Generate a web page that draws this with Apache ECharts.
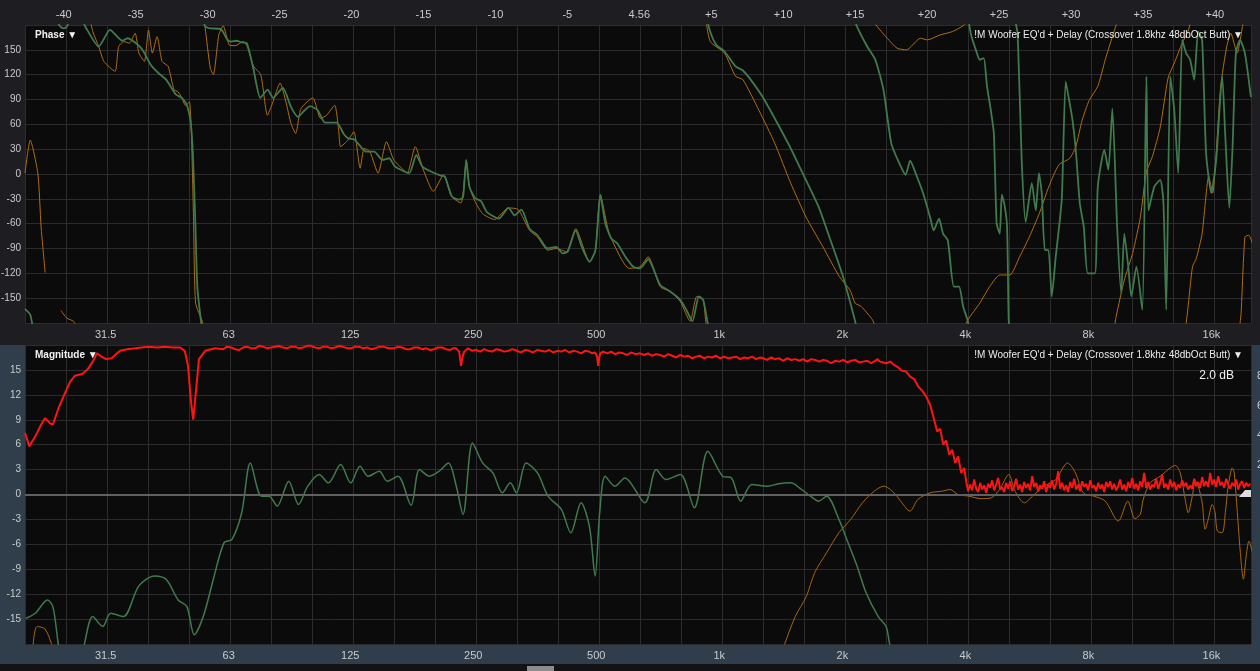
<!DOCTYPE html>
<html>
<head>
<meta charset="utf-8">
<script src="https://cdn.jsdelivr.net/npm/echarts/dist/echarts.min.js"></script>
<style>
  html, body { margin: 0; padding: 0; background: #1e1e22; }
  #chart { width: 1260px; height: 671px; }
</style>
</head>
<body>
<div id="chart"></div>
<script>
// ---- Axis ticks ----
const freqTickHz = [31.5, 63, 125, 250, 500, 1000, 2000, 4000, 8000, 16000];
const freqTickText = ['31.5', '63', '125', '250', '500', '1k', '2k', '4k', '8k', '16k'];
const delayTicks = [-40, -35, -30, -25, -20, -15, -10, -5, 0, 5, 10, 15, 20, 25, 30, 35, 40];
const delayCenterText = '4.56';
const rightScaleTicks = [2, 4, 6, 8];

// ---- Phase traces: [Hz, degrees]; null marks a wrap/gap ----
const greenPhase = [
  [20.0,-163],[20.6,-170],[20.9,-186], null,
  [24.0,184],[24.4,178],[24.9,176],[25.3,178],[25.8,186],[27.3,190],[28.1,178],[30.3,154],[32.3,174],[34.6,161],[35.7,164],
  [38.0,155],[39.0,148],[40.6,132],[42.4,122],[44.3,114],[46.8,96],[48.4,92],[49.8,83],[50.9,61],[51.5,25],[52.2,-56],
  [52.8,-136],[53.8,-174],[54.3,-190], null,
  [54.6,186],[55.2,178],[56.8,176],[60.3,175],[62.6,162],[64.0,160],[65.9,161],[67.8,159],[69.8,158],[72.5,126],[75.3,92],
  [78.5,102],[80.9,92],[85.5,104],[89.5,81],[93.1,69],[96.7,77],[99.6,82],[104.1,77],[108.5,62],[115.8,62],[120.3,49],
  [123.5,43],[127.6,42],[130.5,37],[136.7,27],[143.1,27],[149.9,17],[155.7,19],[160.8,9],[174.2,1],[181.4,23],[187.6,9],
  [197.0,3],[208.3,-2],[213.1,-3],[221.5,-27],[230.8,-31],[236.0,-28],[240.3,17],[244.5,-15],[252.4,-29],[261.3,-33],
  [270.1,-46],[288.6,-54],[304.9,-41],[315.4,-50],[328.0,-43],[343.2,-66],[359.0,-74],[380.2,-90],[399.1,-88],[413.9,-96],
  [425.4,-94],[445.1,-68],[460.7,-88],[481.4,-106],[497.6,-92],[511.6,-25],[526.3,-60],[544.1,-78],[563.0,-84],[589.1,-100],
  [615.9,-112],[640,-114],[669.7,-103],[716.5,-134],[758.1,-142],[802.4,-152],[830.2,-164],[859.6,-178],[891.1,-148],
  [912.8,-152],[935.1,-178],[945,-190], null,
  [933.4,188],[946.8,174],[982.5,156],[1030,148],[1096,130],[1142,125],[1193,114],[1277,93],[1367,67],[1495,31],[1599,1],
  [1751,-40],[1871,-80],[2008,-124],[2150,-178],[2172,-190], null,
  [2150,186],[2172,178],[2301,154],[2408,138],[2521,102],[2635,37],[2756,13],[2856,-1],[2931,16],[3044,-3],[3152,-23],
  [3278,-52],[3347,-68],[3448,-54],[3527,-72],[3623,-80],[3749,-136],[3860,-136],[3950,-160],[4058,-178],[4081,-190], null,
  [4070,186],[4131,168],[4243,150],[4338,138],[4436,140],[4519,106],[4624,75],[4697,49],[4771,-60],[4856,-72],[4912,-25],
  [4989,-38],[5060,-64],[5106,-176],[5149,-190], null,
  [5295,186],[5373,168],[5494,17],[5619,-58],[5816,-11],[5949,-44],[6055,1],[6151,-23],[6261,-92],[6388,-92],[6508,-148],
  [6656,-100],[6885,-31],[7041,112],[7202,85],[7316,65],[7453,29],[7622,-35],[7795,-64],[7973,-120],[8303,-120],[8437,-15],
  [8753,29],[8953,5],[9157,79],[9408,-64],[9624,-144],[9795,-72],[10016,-112],[10190,-148],[10486,-112],[10841,-164],
  [11096,118],[11222,-44],[11606,-15],[11999,-7],[12212,-35],[12405,-164],[12693,118],[12980,77],[13273,1],[13573,162],
  [13879,146],[14192,138],[14522,114],[14850,172],[15185,162],[15528,25],[15993,-23],[16437,17],[17004,118],[17291,49],
  [17698,-41],[18029,33],[18367,146],[18802,162],[19324,146],[19990,93]
];

const orangePhase = [
  [20.0,1],[20.6,41],[21.5,1],[21.9,-64],[22.4,-119], null,
  [24.5,-165],[25.3,-174],[26.3,-178],[26.7,-186], null,
  [28.9,186],[29.3,172],[30.3,154],[31.2,136],[33.2,124],[33.9,154],[34.9,160],[36.0,158],[37.2,170],[38.0,146],[39.2,136],
  [40.1,174],[41.0,146],[42.1,166],[43.3,136],[44.8,130],[46.3,102],[47.4,99],[48.4,92],[49.4,83],[50.5,87],[51.1,45],
  [51.7,-56],[52.3,-156],[54.3,-178],[54.8,-188], null,
  [55.0,188],[55.2,177],[56.8,128],[57.8,120],[59.6,168],[61.1,179],[63.2,156],[65.4,155],[68.4,160],[70.0,154],[72.5,130],
  [75.5,120],[78.4,71],[80.6,85],[84.2,110],[87.0,87],[89.5,61],[91.9,49],[94.7,79],[101.2,92],[105.8,67],[109.4,71],
  [114.5,83],[117.1,53],[118.4,33],[123.5,41],[127.6,51],[132.2,7],[135.2,31],[139.6,27],[146.2,1],[153.3,39],[159.7,17],
  [167.0,7],[172.3,1],[180.3,33],[188.7,5],[199.7,-21],[211.4,-1],[221.0,-27],[233.2,-35],[236.5,-20],[240.3,17],
  [244.5,-15],[252.4,-33],[263.5,-48],[281.8,-55],[304.9,-41],[322.2,-43],[343.2,-68],[359.0,-76],[380.2,-92],[399.1,-90],
  [422.6,-94],[445.1,-66],[481.4,-106],[497.6,-92],[511.6,-25],[538.2,-72],[601.8,-114],[640,-112],[669.7,-100],
  [716.5,-136],[758.1,-142],[802.4,-154],[848.5,-178],[880.7,-148],[912.8,-152],[926.3,-178],[935,-190], null,
  [924.4,190],[950.3,160],[1030,146],[1096,118],[1142,114],[1250,77],[1367,37],[1495,-11],[1630,-52],[1793,-88],[1967,-124],
  [2087,-140],[2150,-156],[2224,-160],[2369,-176],[2420,-188], null,
  [2366,190],[2418,180],[2576,164],[2722,152],[2871,150],[3106,164],[3230,162],[3469,168],[3717,172],[3975,180],[4018,186], null,
  [3974,-186],[4058,-176],[4338,-156],[4588,-136],[4856,-122],[5140,-122],[5430,-100],[5737,-76],[6064,-48],[6404,-15],
  [6775,11],[7202,19],[7453,33],[7723,65],[8037,89],[8437,106],[8797,138],[9157,166],[9356,180],[9463,188], null,
  [9252,-186],[9356,-172],[9795,-128],[10263,-96],[10722,-52],[11096,3],[11476,21],[11999,57],[12536,116],[12980,134],
  [13573,158],[14063,174],[14240,186], null,
  [13807,-190],[14005,-164],[14383,-112],[14696,-102],[15185,-72],[15762,-3],[16120,-23],[16437,25],[16860,106],[17444,154],
  [17856,170],[18500,146],[18915,168],[19160,186], null,
  [18705,-190],[18915,-168],[19324,-76],[19762,-74],[20155,-84]
];

// ---- Magnitude traces: [Hz, dB] ----
const redMagnitude = [
  [20.0,7.4],[20.5,5.8],[21.2,7.0],[21.9,8.4],[22.4,9.2],[23.0,8.6],[23.4,8.4],[24.2,10.5],[25.1,12.3],[25.8,13.6],[26.5,14.3],
  [27.6,14.5],[28.5,15.1],[29.3,16.0],[30.0,17.0],[30.8,16.6],[31.6,16.3],[32.6,16.4],[33.4,16.9],[34.2,17.3],[35.6,17.5],
  [37.2,17.6],[38.6,17.7],[40.0,17.8],[42.2,17.7],[44.0,17.8],[46.0,17.7],[47.9,17.7],[49.2,17.3],[50.1,15.5],[51.0,11.0],
  [51.6,9.0],[52.3,12.0],[53.3,16.3],[55.2,17.3],[58.3,17.6],
  [61.1,17.5],[62.5,17.8],[63.9,17.7],[65.3,17.5],[66.8,17.4],[68.3,17.7],[69.9,17.8],[71.5,17.6],[73.1,17.6],[74.8,17.9],
  [76.5,17.8],[78.2,17.6],[80.0,17.7],[81.8,17.8],[83.7,17.9],[85.6,17.7],[87.5,17.6],[89.5,17.8],[91.6,17.8],[93.7,17.6],
  [95.8,17.7],[98.0,17.9],[100.2,17.9],[102.5,17.7],[104.9,17.6],[107.3,17.8],[109.7,17.8],[112.2,17.6],[114.7,17.7],
  [117.3,17.9],[120.0,17.8],[122.8,17.6],[125.6,17.6],[128.4,17.8],[131.4,17.8],[134.4,17.6],[137.5,17.7],[140.6,17.5],
  [143.8,17.6],[147.1,17.8],[150.5,17.8],[155.0,17.6],[160.0,17.6],[163.7,17.8],[167.4,17.7],[171.2,17.5],[175.1,17.5],
  [179.1,17.7],[183.2,17.7],[187.4,17.5],[191.7,17.6],[196.1,17.4],[200.5,17.5],[205.1,17.7],[209.8,17.7],[214.6,17.5],
  [219.4,17.4],[223.2,17.6],[227.1,17.6],[230.9,17.2],[233.4,15.5],[235.5,16.6],[237.5,17.2],[242.9,17.6],[248.4,17.3],
  [254.1,17.4],[260.0,17.2],[265.9,17.5],[272.0,17.3],[278.1,17.2],[284.5,17.5],[290.9,17.4],[297.6,17.2],[304.3,17.3],
  [311.3,17.5],[320.0,17.3],[327.3,17.1],[334.8,17.4],[342.4,17.3],[350.2,17.1],[358.2,17.4],[366.4,17.3],[374.8,17.2],
  [383.4,17.4],[392.1,17.1],[401.0,17.3],[410.2,17.2],[419.5,17.4],[429.1,17.1],[438.8,17.3],[448.8,17.2],[459.1,17.0],
  [469.6,17.3],[480.2,17.2],[488.5,17.0],[496.7,17.1],[502.4,16.6],[505.3,15.5],[508.2,16.4],[511.0,17.0],[519.8,17.2],
  [531.7,17.0],[543.8,17.2],[556.2,16.9],[568.9,17.1],[581.8,17.0],[595.1,16.8],[608.6,17.1],[624.2,16.9],[640,17.0],
  [654.6,16.8],[669.6,17.0],[684.9,16.7],[700.4,16.9],[716.4,16.8],[732.9,16.6],[749.6,16.9],[766.8,16.7],[784.3,16.5],
  [802.0,16.8],[820.4,16.6],[839.0,16.7],[858.2,16.4],[877.7,16.6],[897.8,16.7],[918.2,16.4],[939.1,16.6],[960.4,16.5],
  [982.3,16.7],[1005,16.4],[1028,16.6],[1051,16.4],[1075,16.5],[1100,16.6],[1125,16.3],[1150,16.5],[1176,16.4],[1203,16.6],
  [1230,16.3],[1258,16.5],[1280,16.4],[1309,16.2],[1339,16.5],[1370,16.3],[1401,16.4],[1433,16.1],[1466,16.4],[1500,16.2],
  [1534,16.3],[1569,16.1],[1604,16.3],[1641,16.0],[1678,16.3],[1717,16.2],[1756,16.0],[1796,16.2],[1836,16.1],[1878,15.8],
  [1921,16.1],[1965,16.0],[2010,16.2],[2056,15.9],[2103,16.1],[2151,16.2],[2200,15.9],[2250,16.0],[2301,16.1],[2354,15.8],
  [2407,16.1],[2440,16.3],[2472,16.0],
  [2560,15.8],[2620,16.0],[2678,15.6],[2740,15.3],[2801,14.9],[2866,14.8],[2931,14.2],[2998,13.9],[3066,13.0],[3136,12.5],
  [3207,11.8],[3280,10.8],[3355,9.0],[3413,7.6],[3471,7.9],[3531,6.0],[3591,6.5],[3652,4.8],[3715,5.4],[3778,3.8],
  [3841,4.6],[3907,2.6],[3974,3.2],
  [4018,1.6],[4064,0.4],[4110,1.2],[4157,0.5],[4204,1.8],[4252,0.7],[4300,0.3],[4349,1.4],[4398,0.6],[4448,1.1],[4498,0.2],
  [4549,1.3],[4600,0.8],[4652,1.7],[4705,0.5],[4758,1.2],[4812,2.0],[4867,0.6],[4922,0.9],[4978,0.3],[5034,1.4],[5091,0.7],
  [5149,1.6],[5207,0.4],[5266,1.0],[5326,1.9],[5386,0.6],[5447,1.2],[5509,0.3],[5571,1.5],[5635,0.8],[5699,1.3],[5763,0.5],
  [5829,2.2],[5895,0.9],[5962,1.4],[6029,0.4],[6097,1.1],[6166,0.7],[6236,1.6],[6307,0.3],[6378,1.2],[6451,0.8],[6524,1.7],
  [6598,0.6],[6673,1.3],[6748,2.8],[6825,0.7],[6902,1.4],[6980,0.5],[7059,1.1],[7139,0.3],[7220,1.5],[7302,0.8],[7385,1.9],
  [7469,0.6],[7553,1.2],[7639,0.4],[7725,1.6],[7813,0.9],[7902,1.3],[7991,0.5],[8082,1.7],[8173,0.8],[8266,1.1],[8360,0.4],
  [8455,1.4],[8551,0.7],[8647,1.2],[8745,0.3],[8844,1.5],[8945,0.9],[9046,1.6],[9148,0.6],[9252,1.3],[9357,0.5],[9463,1.0],
  [9570,1.8],[9679,0.6],[9789,1.2],[9899,0.4],[10011,1.5],[10125,0.8],[10240,2.0],[10356,0.7],[10473,1.3],[10592,0.5],
  [10712,1.6],[10833,0.9],[10956,2.6],[11080,0.8],[11206,1.5],[11333,0.6],[11461,1.2],[11591,0.9],[11722,1.9],[11855,0.7],
  [11990,1.4],[12125,2.4],[12263,0.8],[12402,1.3],[12542,0.6],[12685,1.8],[12828,0.9],[12974,1.5],[13121,0.5],[13270,1.2],
  [13420,0.8],[13572,1.7],[13726,1.0],[13882,1.4],[14039,0.6],[14198,1.1],[14359,0.7],[14522,1.9],[14686,1.0],[14853,1.5],
  [15021,0.8],[15192,2.1],[15364,1.0],[15538,1.6],[15714,0.9],[15892,2.6],[16072,1.2],[16255,1.8],[16439,0.9],[16625,2.2],
  [16814,1.1],[17004,1.5],[17197,0.8],[17392,1.9],[17589,1.2],[17789,0.7],[17990,1.4],[18194,1.0],[18401,1.8],[18609,0.6],
  [18820,1.3],[19033,1.6],[19249,0.8],[19467,1.4],[19688,1.0],[19911,1.3]
];

const greenMagnitude = [
  [20.1,-14.9],[21.2,-14.3],[22.7,-12.7],[23.4,-13.5],[24.9,-20],[27.3,-20],[27.8,-18.5],[29.3,-14.7],[31.0,-15.9],
  [32.4,-14.3],[34.8,-14.7],[38.0,-11.0],[41.5,-9.8],[44.3,-10.2],[47.4,-12.7],[49.8,-13.5],[51.9,-16.9],[54.6,-14.7],
  [57.8,-10.2],[61.4,-5.8],[64.2,-5.4],[67.8,-2.2],[71.2,3.8],[75.8,-0.2],[79.1,-0.2],[82.8,-1.4],[88.4,1.6],[93.4,-1.2],
  [98.4,1.0],[104.9,2.4],[110.5,1.4],[118.4,3.6],[125.3,1.4],[132.1,3.4],[138.2,2.2],[147.3,2.8],[154.0,1.6],[163.6,2.2],
  [176.1,-1.3],[184.6,3.0],[195.3,2.2],[206.2,2.8],[217.4,3.8],[227.2,1.0],[236.0,-2.4],[248.9,6.2],[263.5,3.8],[279.2,2.6],
  [294.6,0.2],[307.9,1.4],[318.8,0.2],[336.7,3.8],[359.0,2.6],[381.0,-0.2],[410.6,-1.8],[433.1,-4.6],[458.8,-1.0],
  [480.9,-3.8],[496.7,-9.8],[510.0,-2.0],[525.6,2.2],[555.1,1.0],[587.2,2.0],[657.3,-1.0],[700.9,3.0],[740.4,1.8],[803,2.4],
  [868.7,-1.6],[937.5,5.2],[1019,2.2],[1071,2.0],[1128,-0.8],[1201,1.2],[1311,1.0],[1397,1.3],[1499,1.4],[1570,0.8],
  [1671,-0.2],[1750,-0.8],[1831,-0.2],[1962,-3.0],[2050,-5.4],[2173,-8.6],[2285,-11.8],[2449,-14.7],[2560,-15.9],
  [2618,-18.2],[2766,-21]
];

const orangeMagnitude = [
  [20.9,-18.5],[21.4,-15.9],[22.4,-16.2],[23.4,-18.5],[23.8,-20], null,
  [1400,-20],[1433,-18.5],[1534,-14.7],[1632,-12.3],[1712,-9.4],[1831,-7.0],[1962,-4.6],[2096,-3.0],[2240,-1.0],[2394,0.4],
  [2527,1.0],[2676,0.2],[2798,-1.0],[2926,-2.0],[3061,-0.6],[3279,0.2],[3508,0.4],[3669,0.6],[3835,0.0],[4081,-0.2],
  [4367,-0.5],[4630,-0.4],[4850,0.6],[5108,2.4],[5292,0.4],[5580,-1.0],[5839,-0.2],[6228,1.0],[6656,1.8],[7117,3.8],
  [7436,2.6],[7771,0.2],[8261,-0.2],[8800,-0.8],[9466,-3.2],[9990,-0.8],[10400,-2.9],[10714,-2.4],[10895,-0.6],[11333,1.4],
  [11994,2.2],[12685,3.2],[13052,3.5],[13422,2.6],[13807,-0.6],[14041,-2.2],[14366,-0.2],[14612,1.6],[14853,1.0],
  [15192,-1.0],[15447,-4.2],[15714,-3.0],[16074,-1.2],[16338,-2.2],[16542,-4.4],[17004,-4.6],[17305,-2.2],[17591,1.0],
  [18004,3.2],[18194,2.6],[18519,-2.2],[18835,-7.0],[19160,-10.2],[19467,-7.4],[19777,-5.6],[20155,-7.0]
];

// ---- Drawing ----
const FONT = '"Liberation Sans", Arial, sans-serif';
const LABEL = '#cacaca';
const GRIDLINE = '#2c2c2e';
const STRIP_BLUE = '#2f3e4a';

// third-octave bands above 20 Hz: the frequency axis is linear in this unit
const toBand = hz => 3 * Math.log2(hz / 20);
const BAND_MAX = toBand(20000);

const toPoints = arr => arr.map(p => (p ? [toBand(p[0]), p[1]] : ['-', '-']));

function freqLabel(v) {
  for (let i = 0; i < freqTickHz.length; i++) {
    if (Math.abs(toBand(freqTickHz[i]) - v) < 1e-6) return freqTickText[i];
  }
  return '';
}

function freqAxis(gridIndex) {
  return {
    type: 'value', gridIndex, position: 'bottom', min: 0, max: BAND_MAX, interval: 1,
    axisLine: { show: false }, axisTick: { show: false },
    splitLine: { show: true, lineStyle: { color: GRIDLINE, width: 1 } },
    axisLabel: {
      customValues: freqTickHz.map(toBand), formatter: freqLabel,
      color: LABEL, fontSize: 11, fontFamily: FONT, margin: 6
    }
  };
}

function trace(data, xi, yi, color, width, z, smooth, extra) {
  return Object.assign({
    type: 'line', xAxisIndex: xi, yAxisIndex: yi, data: toPoints(data),
    showSymbol: false, symbol: 'none', clip: true, silent: true, z, smooth,
    connectNulls: false, animation: false,
    lineStyle: { color, width }, itemStyle: { color }
  }, extra || {});
}

const option = {
  backgroundColor: '#1e1e22',
  animation: false,
  textStyle: { fontFamily: FONT },
  grid: [
    { left: 25, right: 9, top: 25, height: 298, show: true, backgroundColor: '#0b0b0b', borderWidth: 0,
      containLabel: false, outerBoundsMode: 'none' },
    { left: 25, right: 9, top: 345, height: 299, show: true, backgroundColor: '#0b0b0b', borderWidth: 0,
      containLabel: false, outerBoundsMode: 'none' }
  ],
  xAxis: [
    freqAxis(0),
    {
      type: 'value', gridIndex: 0, position: 'top', min: -42.69, max: 42.51,
      axisLine: { show: false }, axisTick: { show: false }, splitLine: { show: false },
      axisLabel: {
        customValues: delayTicks,
        formatter: v => (v === 0 ? delayCenterText : (v > 0 ? '+' + v : String(v))),
        color: LABEL, fontSize: 11, fontFamily: FONT, margin: 5
      }
    },
    freqAxis(1)
  ],
  yAxis: [
    {
      type: 'value', gridIndex: 0, min: -180, max: 180, interval: 30,
      axisLine: { show: false }, axisTick: { show: false },
      splitLine: { show: true, lineStyle: { color: GRIDLINE, width: 1 } },
      axisLabel: { color: LABEL, fontSize: 10, fontFamily: FONT, margin: 4, showMinLabel: false, showMaxLabel: false }
    },
    {
      type: 'value', gridIndex: 1, min: -18, max: 18, interval: 3,
      axisLine: { show: false }, axisTick: { show: false },
      splitLine: { show: true, lineStyle: { color: GRIDLINE, width: 1 } },
      axisLabel: { color: LABEL, fontSize: 10, fontFamily: FONT, margin: 4, showMinLabel: false, showMaxLabel: false }
    },
    {
      type: 'value', gridIndex: 1, position: 'right', min: -10.1, max: 10.1,
      axisLine: { show: false }, axisTick: { show: false }, splitLine: { show: false },
      axisLabel: { customValues: rightScaleTicks, color: LABEL, fontSize: 11, fontFamily: FONT, margin: 6 }
    }
  ],
  graphic: [
    // frame strips around the magnitude panel
    { type: 'rect', z: -5, silent: true, shape: { x: 0, y: 345, width: 25, height: 319 }, style: { fill: STRIP_BLUE } },
    { type: 'rect', z: -5, silent: true, shape: { x: 0, y: 644, width: 1260, height: 20 }, style: { fill: STRIP_BLUE } },
    { type: 'rect', z: -5, silent: true, shape: { x: 1251, y: 345, width: 9, height: 319 }, style: { fill: STRIP_BLUE } },
    { type: 'rect', z: -5, silent: true, shape: { x: 0, y: 664, width: 1260, height: 7 }, style: { fill: '#131315' } },
    { type: 'rect', z: -4, silent: true, shape: { x: 527, y: 666, width: 27, height: 5 }, style: { fill: '#8c8c8c' } },
    // panel captions
    { type: 'text', z: 20, left: 35, top: 30, silent: true,
      style: { text: 'Phase \u25BC', fill: '#f2f2f2', font: 'bold 10px ' + FONT } },
    { type: 'text', z: 20, left: 35, top: 350, silent: true,
      style: { text: 'Magnitude \u25BC', fill: '#f2f2f2', font: 'bold 10px ' + FONT } },
    { type: 'text', z: 20, right: 17, top: 30, silent: true,
      style: { text: "!M Woofer EQ'd + Delay (Crossover 1.8khz 48dbOct Butt) \u25BC", fill: '#ececec', font: '10px ' + FONT } },
    { type: 'text', z: 20, right: 17, top: 350, silent: true,
      style: { text: "!M Woofer EQ'd + Delay (Crossover 1.8khz 48dbOct Butt) \u25BC", fill: '#ececec', font: '10px ' + FONT } },
    { type: 'text', z: 20, right: 26, top: 370, silent: true,
      style: { text: '2.0 dB', fill: '#f2f2f2', font: '12px ' + FONT } },
    // level handle at the end of the 0 dB line
    { type: 'polygon', z: 20, silent: true,
      shape: { points: [[1239, 497], [1251, 497], [1251, 490], [1245, 490]] }, style: { fill: '#dcdcdc' } }
  ],
  series: [
    trace(orangePhase, 0, 0, '#b36d10', 1, 2, 0.2),
    trace(greenPhase, 0, 0, '#3f7b4c', 1.8, 3, 0.2),
    trace(orangeMagnitude, 2, 1, '#a8660f', 1, 2, 0.3, {
      markLine: {
        silent: true, symbol: ['none', 'none'], label: { show: false }, animation: false,
        lineStyle: { color: '#606060', width: 2, type: 'solid' }, data: [{ yAxis: 0 }]
      }
    }),
    trace(greenMagnitude, 2, 1, '#3f7b4c', 1.5, 3, 0.3),
    trace(redMagnitude, 2, 1, '#ff1414', 2, 4, false)
  ]
};

const chart = echarts.init(document.getElementById('chart'), null, { renderer: 'canvas' });
chart.setOption(option);
</script>
</body>
</html>
